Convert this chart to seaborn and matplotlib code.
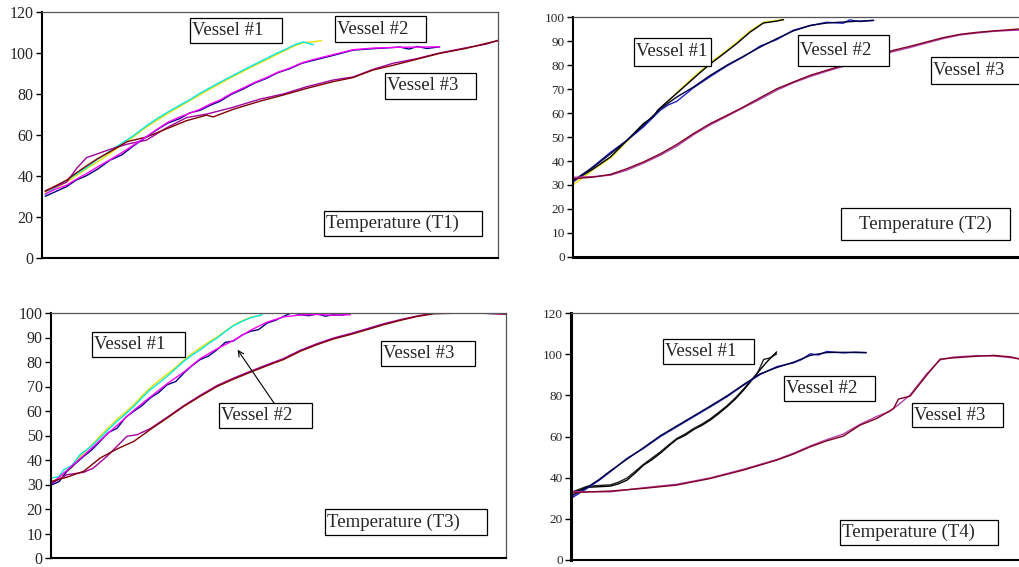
import numpy as np
import pandas as pd
import matplotlib.pyplot as plt
import seaborn as sns
from matplotlib.patches import Rectangle

# ---- data (x = elapsed time, % of the axis span; y = temperature) ----
# T1
t1_v1a_x = [0.7, 3, 5.4, 7.5, 9.8, 12.3, 14.9, 17.5, 20, 22.5, 25.1, 27.6, 30.2, 32.4, 34.6, 36.8, 39, 41.5, 44.1, 46.6, 49.2, 51.4, 53.6, 55.5, 57.3, 59.5, 61.3]
t1_v1a_y = [31.8, 34.2, 37, 40.2, 43.6, 47.1, 51, 55.2, 59, 63.2, 67, 70.5, 73.8, 76.8, 79.5, 82.4, 85, 88.1, 91, 93.9, 96.6, 99.2, 101.5, 103.6, 105, 105.5, 106]
t1_v1b_x = [0.7, 3, 5.4, 7.5, 9.8, 12.3, 14.9, 17.5, 20, 22.5, 25.1, 27.6, 30.2, 32.4, 34.6, 36.8, 39, 41.5, 44.1, 46.6, 49.2, 51.4, 53.6, 55.5, 57.3, 59.5]
t1_v1b_y = [31, 34.6, 37.8, 41, 44.2, 48.3, 52.2, 56, 59.6, 63.8, 67.8, 71.2, 74.5, 77.2, 80.3, 83, 85.7, 88.6, 91.6, 94.4, 97.3, 99.8, 102, 104.1, 105.4, 104]
t1_v2a_x = [0.7, 3, 5.4, 7.5, 9.8, 12.3, 14.9, 17.5, 20, 22.5, 25.1, 27.6, 30.2, 32.4, 34.6, 37, 39, 41.5, 44.1, 46.6, 49.2, 51.7, 54.3, 57, 59.5, 63.8, 68.2, 72.6, 78.5, 80.5, 82.3, 84.4, 87.2]
t1_v2a_y = [30.1, 32.4, 34.8, 38, 40.2, 43.5, 47.7, 50.3, 54.6, 58.5, 62.4, 65.8, 68, 70.8, 72, 74.6, 76.4, 79.8, 82.4, 85.3, 87.6, 90.4, 92.3, 95, 96.4, 98.8, 101.4, 102.1, 102.9, 101.9, 103.2, 102.2, 103]
t1_v2b_x = [0.7, 3, 5.4, 7.5, 9.8, 12.3, 14.9, 17.5, 20, 22.5, 25.1, 27.6, 30.2, 32.4, 34.6, 37, 39, 41.5, 44.1, 46.6, 49.2, 51.7, 54.3, 57, 59.5, 63.8, 68.2, 72.6, 78.5, 87.2]
t1_v2b_y = [31.2, 33.6, 35.5, 38.4, 41.2, 44.6, 47.9, 51.3, 55, 58.6, 62.6, 66.2, 68.8, 70.6, 72.5, 75.2, 77, 80.2, 82.9, 85.6, 88, 90.6, 92.6, 95.2, 96.8, 99.2, 101.6, 102.4, 102.8, 103]
t1_v3a_x = [0.7, 3, 5.4, 7.5, 9.8, 12.3, 14.9, 18.6, 22.9, 27.3, 31.7, 36.1, 37.5, 41.9, 47.8, 52.9, 58, 63.8, 68.2, 72.6, 77, 82.1, 87.2, 93.1, 97.4, 100]
t1_v3a_y = [32.7, 35.2, 38, 41.5, 45, 48.6, 51.8, 56.7, 59, 63, 67, 69.7, 68.8, 72.5, 76.5, 79.5, 82.7, 86, 88, 91.7, 94, 96.9, 99.8, 102.3, 104.7, 106]
t1_v3b_x = [0.7, 3, 5.4, 7.7, 9.8, 12.4, 14.9, 18.6, 22.9, 27.3, 31.7, 36.1, 41.9, 47.8, 52.9, 58, 63.8, 68.2, 72.6, 77, 82.1, 87.2, 93.1, 97.4, 100]
t1_v3b_y = [32.5, 34.8, 37, 44, 49, 51, 53, 55.5, 57.5, 63.5, 68.5, 70.2, 73.5, 77.5, 80, 83.5, 86.8, 88.3, 92, 95, 97.2, 100, 102.6, 104.3, 106.2]

# T2
t2_v1a_x = [0, 4.6, 8.4, 12.1, 15.8, 18.1, 21.1, 24, 27.8, 30.8, 33.8, 36.7, 39.7, 42.7, 45.7, 47.2]
t2_v1a_y = [30, 36.5, 41.2, 48.2, 55.2, 59.2, 64.2, 69.8, 76.2, 81, 85.1, 89.4, 94.2, 97.8, 98.6, 99]
t2_v1b_x = [0, 4.6, 8.4, 12.1, 15.8, 18.1, 19, 21.1, 24, 27.8, 30.8, 33.8, 36.7, 39.7, 42.7, 45.7, 47.2]
t2_v1b_y = [31.5, 36.8, 41.7, 48.6, 55.6, 58.5, 61.2, 64.7, 69.4, 75.7, 80.5, 84.7, 88.9, 93.7, 97.5, 98.3, 98.9]
t2_v2a_x = [0, 4.6, 8.4, 12.1, 15.8, 19.6, 21.4, 23.3, 27, 30.8, 34.5, 38.2, 42, 45.7, 49.4, 53.2, 56.9, 60.6, 62, 64.4, 67.4]
t2_v2a_y = [31.2, 37.8, 43.6, 48.6, 54.2, 61.2, 63.4, 64.9, 70.5, 75.2, 79.6, 83.4, 87.9, 90.6, 94.5, 96.4, 97.8, 97.4, 98.8, 98.1, 98.6]
t2_v2b_x = [0, 4.6, 8.4, 12.1, 15.8, 19.6, 23.3, 27, 30.8, 34.5, 38.2, 42, 45.7, 49.4, 53.2, 56.9, 60.6, 64.4, 67.4]
t2_v2b_y = [31.8, 37.5, 43, 48.6, 54.9, 61.8, 66.7, 70.8, 75.7, 79.9, 83.6, 87.5, 91, 94.2, 96.5, 97.5, 97.9, 98.3, 98.6]
t2_v3a_x = [0, 4.6, 8.4, 12.1, 15.8, 19.6, 23.3, 27, 30.8, 34.5, 38.2, 42, 45.7, 49.4, 53.2, 56.9, 60.6, 64.4, 68.1, 71.8, 75.6, 79.3, 83, 86.8, 90.5, 94.2, 98, 100]
t2_v3a_y = [32.6, 33.3, 34.4, 36.8, 39.6, 43, 46.9, 51.4, 55.6, 59, 62.5, 66.4, 70.1, 72.9, 75.7, 77.8, 79.9, 81.9, 84, 86.1, 87.8, 89.6, 91.4, 92.8, 93.6, 94.2, 94.7, 95]
t2_v3b_x = [0, 4.6, 8.4, 12.1, 15.8, 19.6, 23.3, 27, 30.8, 34.5, 38.2, 42, 45.7, 49.4, 53.2, 56.9, 60.6, 64.4, 68.1, 71.8, 75.6, 79.3, 83, 86.8, 90.5, 94.2, 98, 100]
t2_v3b_y = [33.2, 33.5, 34.1, 36.2, 39.1, 42.4, 46.2, 50.9, 55.1, 58.6, 62.2, 65.8, 69.5, 72.6, 75.2, 77.4, 79.4, 81.5, 83.5, 85.6, 87.3, 89.2, 91, 92.5, 93.3, 94, 94.4, 94.5]

# T3
t3_v1a_x = [0.2, 1.7, 2.8, 4.6, 6.4, 8.6, 10.8, 12.7, 14.5, 16.4, 18.2, 20, 21.8, 23.7, 25.5, 27.4, 29.2, 31, 32.8, 34.7, 36.5, 38.3, 40.1, 42, 43.8, 46.4]
t3_v1a_y = [32.7, 33.2, 36, 37.8, 42.2, 45.3, 49, 52.6, 55.8, 58.8, 61.9, 65.4, 68.7, 71.4, 74.1, 77.3, 80.3, 82.8, 85, 87.6, 89.8, 92.4, 94.8, 96.6, 98, 99.3]
t3_v1b_x = [0.2, 2.8, 4.6, 6.4, 8.6, 10.8, 12.7, 14.5, 16.4, 18.2, 20, 21.8, 23.7, 25.5, 27.4, 29.2, 31, 32.8, 34.7, 36.5, 38.3, 40.1, 42, 43.8, 46]
t3_v1b_y = [31, 34.2, 37, 41.4, 45.4, 49.8, 53.4, 56.6, 59.6, 62.6, 66.2, 69.4, 72.4, 75, 77.8, 80.8, 83.4, 85.8, 88.2, 90.2, 92.6, 95, 96.8, 98.2, 99]
t3_v2a_x = [0.2, 1.8, 3.5, 5.4, 7.2, 9, 10.8, 12.6, 14.5, 16.4, 18.2, 20, 21.8, 23.7, 25.5, 27.4, 29.2, 31, 32.8, 34.6, 36.5, 38.3, 40.1, 42, 43.8, 45.6, 47.5, 49.3, 51.1, 53, 54.8, 56.6, 58.5, 60.3, 62.1, 64, 65.8]
t3_v2a_y = [29.9, 31.2, 35.4, 38.6, 41.5, 44.2, 47.6, 51.2, 52.9, 57.4, 59.9, 62.2, 65.3, 67.6, 70.7, 72, 75.5, 78.5, 81, 82.4, 85, 88, 88.6, 91, 92.5, 93.2, 95.9, 97, 98.6, 100.2, 99.3, 98.9, 99.6, 98.7, 99.3, 99.1, 100]
t3_v2b_x = [0.2, 3.5, 7.2, 10.8, 14.5, 18.2, 21.8, 25.5, 29.2, 32.8, 36.5, 40.1, 43.8, 47.5, 51.1, 54.8, 58.5, 62.1, 65.8]
t3_v2b_y = [30.4, 35.8, 41.9, 48, 54.1, 60.3, 65.7, 71.1, 75.9, 81.4, 85.4, 88.8, 92.9, 96.3, 98.4, 99.2, 99.4, 99.1, 99.3]
t3_v3a_x = [0.2, 3.5, 7.2, 10.8, 14.5, 18.2, 21.8, 25.5, 29.2, 32.8, 36.5, 40.1, 43.8, 47.5, 51.1, 54.8, 58.5, 62.1, 65.8, 69.5, 73.1, 76.8, 80.5, 84.1, 91.4, 100]
t3_v3a_y = [31.3, 33, 35.4, 40.8, 44.5, 47.6, 52.4, 57.1, 61.9, 66, 70, 73, 75.8, 78.5, 81, 84.4, 87.1, 89.4, 91.2, 93.2, 95.2, 97, 98.6, 99.7, 100, 99.7]
t3_v3b_x = [0.2, 3.5, 7.2, 9.3, 12.3, 16.7, 18.9, 21.8, 25.5, 29.2, 32.8, 36.5, 40.1, 43.8, 47.5, 51.1, 54.8, 58.5, 62.1, 65.8, 69.5, 73.1, 76.8, 80.5, 84.1, 91.4, 100]
t3_v3b_y = [30.5, 34, 35, 36.7, 41.5, 49.7, 50.3, 52.8, 57.4, 62.2, 66.4, 70.4, 73.4, 76.2, 78.9, 81.4, 84.8, 87.5, 89.8, 91.6, 93.6, 95.6, 97.3, 98.8, 99.9, 100.2, 99.5]

# T4
t4_v1a_x = [0.2, 3.6, 6.2, 8.8, 10.6, 12.5, 14.3, 16.2, 18, 19.9, 21.8, 23.6, 25.5, 27.4, 29.2, 31.1, 32.9, 34.8, 36.7, 38.5, 40, 41.5, 43.7, 45.9]
t4_v1a_y = [32.4, 35.3, 35.6, 35.9, 37, 38.8, 42.2, 46.1, 48.6, 51.8, 55.4, 58.6, 60.6, 63.4, 65.4, 68, 71, 74.4, 78.2, 82.5, 86.4, 90.6, 96.2, 101.1]
t4_v1b_x = [0.2, 3.6, 6.2, 8.8, 10.6, 12.5, 14.3, 16.2, 18, 19.9, 21.8, 23.6, 25.5, 27.4, 29.2, 31.1, 32.9, 34.8, 36.7, 38.5, 40, 41.5, 43, 44.4, 45.9]
t4_v1b_y = [33, 35.8, 36.2, 36.5, 37.8, 39.8, 43, 46.5, 49.4, 52.4, 55.9, 59, 61.2, 63.9, 66, 68.6, 71.6, 74.9, 78.8, 83, 86.9, 90.2, 97.4, 98.2, 100.1]
t4_v2a_x = [0.2, 3.6, 6.2, 8.8, 12.5, 16.2, 19.9, 23.6, 27.4, 31.1, 34.8, 38.5, 42.2, 45.9, 49.7, 51.5, 53.4, 55.2, 57.1, 60.8, 63.4, 65.9]
t4_v2a_y = [30.2, 34.8, 38.6, 42.9, 49.4, 54.2, 59.9, 64.7, 69.6, 74.4, 79.3, 84.9, 90.1, 93.9, 95.8, 97.4, 100.2, 99.6, 101.3, 100.6, 101, 100.8]
t4_v2b_x = [0.2, 3.6, 6.2, 8.8, 12.5, 16.2, 19.9, 23.6, 27.4, 31.1, 34.8, 38.5, 42.2, 45.9, 49.7, 53.4, 57.1, 60.8, 65.9]
t4_v2b_y = [31.2, 35.3, 39, 43.3, 49, 54.6, 60.3, 65.1, 70, 74.8, 79.7, 85.2, 90.4, 93.5, 96.1, 99.4, 100.8, 100.9, 100.7]
t4_v3a_x = [0, 8.8, 16.2, 23.6, 31.1, 38.5, 45.9, 49.7, 53.4, 57.1, 60.8, 64.5, 68.3, 72, 73.1, 75.7, 79.4, 82.4, 85.4, 90.6, 94.4, 98.1, 100]
t4_v3a_y = [32.7, 33.5, 34.8, 36.4, 39.6, 43.7, 48.5, 51.5, 55, 57.9, 60.2, 65.5, 68.8, 73.6, 78.2, 79.6, 89.8, 97.6, 98.2, 99, 99.4, 98.7, 97.6]
t4_v3b_x = [0, 8.8, 16.2, 23.6, 31.1, 38.5, 45.9, 49.7, 53.4, 57.1, 60.8, 64.5, 68.3, 71, 73.1, 75.7, 79.4, 82.4, 85.4, 90.6, 94.4, 98.1, 100]
t4_v3b_y = [33.2, 33.1, 35.1, 36.8, 39.9, 44.1, 48.8, 51.9, 55.4, 58.5, 61.2, 65.9, 69.8, 72, 75.4, 80.2, 90.4, 97.2, 98.6, 99.3, 99.1, 98.3, 97.9]

# label text and the box each sits in (figure pixels: x0, y0, x1, y1)
labels = [
    ("Vessel #1", (190, 18, 282, 43)), ("Vessel #2", (335, 16, 426, 42)),
    ("Vessel #3", (385, 73, 476, 99)), ("Temperature (T1)", (324, 211, 482, 236)),
    ("Vessel #1", (634, 38, 711, 66)), ("Vessel #2", (798, 35, 889, 66)),
    ("Vessel #3", (931, 57, 1022, 84)), ("Temperature (T2)", (841, 208, 1010, 240)),
    ("Vessel #1", (92, 332, 185, 357)), ("Vessel #2", (219, 403, 312, 428)),
    ("Vessel #3", (381, 341, 475, 366)), ("Temperature (T3)", (325, 509, 487, 535)),
    ("Vessel #1", (663, 339, 754, 364)), ("Vessel #2", (784, 376, 875, 401)),
    ("Vessel #3", (912, 403, 1003, 427)), ("Temperature (T4)", (840, 520, 998, 545)),
]

# colours of the paired traces
pal_a = {"v1a": "#e8e000", "v1b": "#00e8e8", "v2a": "#000080", "v2b": "#ff00ff", "v3a": "#a000a0", "v3b": "#800000"}
pal_b = {"v1a": "#e8e000", "v1b": "#000000", "v2a": "#2020c0", "v2b": "#000040", "v3a": "#b040b0", "v3b": "#800020"}
pal_d = {"v1a": "#202020", "v1b": "#000000", "v2a": "#2020c0", "v2b": "#000040", "v3a": "#b040b0", "v3b": "#800020"}


def long_df(pairs):
    frames = []
    for name, xs, ys in pairs:
        frames.append(pd.DataFrame({"t": xs, "temp": ys, "curve": name}))
    return pd.concat(frames, ignore_index=True)


panels = [
    dict(rect=[42, 12, 498, 258], ymax=120, step=20, fs=11.5, pal=pal_a,
         data=[("v1a", t1_v1a_x, t1_v1a_y), ("v1b", t1_v1b_x, t1_v1b_y),
               ("v3a", t1_v3b_x, t1_v3b_y), ("v3b", t1_v3a_x, t1_v3a_y),
               ("v2a", t1_v2a_x, t1_v2a_y), ("v2b", t1_v2b_x, t1_v2b_y)]),
    dict(rect=[573, 17, 1019, 257], ymax=100, step=10, fs=9.5, pal=pal_b,
         data=[("v1a", t2_v1a_x, t2_v1a_y), ("v1b", t2_v1b_x, t2_v1b_y),
               ("v2a", t2_v2a_x, t2_v2a_y), ("v2b", t2_v2b_x, t2_v2b_y),
               ("v3a", t2_v3b_x, t2_v3b_y), ("v3b", t2_v3a_x, t2_v3a_y)]),
    dict(rect=[51, 313, 506, 558], ymax=100, step=10, fs=11.5, pal=pal_a,
         data=[("v1a", t3_v1b_x, t3_v1b_y), ("v1b", t3_v1a_x, t3_v1a_y),
               ("v2a", t3_v2a_x, t3_v2a_y), ("v2b", t3_v2b_x, t3_v2b_y),
               ("v3a", t3_v3b_x, t3_v3b_y), ("v3b", t3_v3a_x, t3_v3a_y)]),
    dict(rect=[571, 313, 1019, 560], ymax=120, step=20, fs=9.5, pal=pal_d,
         data=[("v1a", t4_v1b_x, t4_v1b_y), ("v1b", t4_v1a_x, t4_v1a_y),
               ("v2a", t4_v2a_x, t4_v2a_y), ("v2b", t4_v2b_x, t4_v2b_y),
               ("v3a", t4_v3b_x, t4_v3b_y), ("v3b", t4_v3a_x, t4_v3a_y)]),
]

sns.set_style("white")
plt.rcParams['font.family'] = ['Liberation Serif', 'DejaVu Serif']

W, H = 1019, 567
fig = plt.figure(figsize=(W / 100, H / 100), dpi=100)

axes = []
for p in panels:
    x0, y0, x1, y1 = p["rect"]
    ax = fig.add_axes([x0 / W, 1 - y1 / H, (x1 - x0) / W, (y1 - y0) / H])
    df = long_df(p["data"])
    sns.lineplot(data=df, x="t", y="temp", hue="curve", palette=p["pal"],
                 estimator=None, sort=False, legend=False, linewidth=1.0, ax=ax)
    ax.set_xlim(0, 100)
    ax.set_ylim(0, p["ymax"])
    ax.set_yticks(np.arange(0, p["ymax"] + 1, p["step"]))
    ax.set_xticks([])
    ax.set_xlabel("")
    ax.set_ylabel("")
    ax.tick_params(axis="y", direction="out", length=4, width=1, left=True,
                   labelsize=p["fs"], pad=2, color="black")
    for s in ["left", "bottom"]:
        ax.spines[s].set_color("black")
        ax.spines[s].set_linewidth(1.5)
    for s in ["top", "right"]:
        ax.spines[s].set_color("#555555")
        ax.spines[s].set_linewidth(0.9)
    axes.append(ax)

axes[1].spines["bottom"].set_linewidth(2.2)
axes[3].spines["left"].set_linewidth(2.2)
axes[1].spines["right"].set_visible(False)
axes[3].spines["right"].set_visible(False)

for text, (bx0, by0, bx1, by1) in labels:
    fig.patches.append(Rectangle((bx0 / W, 1 - by1 / H), (bx1 - bx0) / W, (by1 - by0) / H,
                                 transform=fig.transFigure, facecolor="white",
                                 edgecolor="black", linewidth=0.9, zorder=5))
    if text == "Temperature (T2)":
        fig.text((bx0 + bx1) / 2 / W, 1 - (by0 + by1) / 2 / H, text, ha="center",
                 va="center", fontsize=13.5, zorder=6)
    else:
        fig.text((bx0 + 2) / W, 1 - (by0 + by1) / 2 / H, text, ha="left",
                 va="center", fontsize=13.5, zorder=6)

# Vessel #2 in T3 carries an arrow into the curves
axes[2].annotate("", xy=(41, 85), xycoords="data",
                 xytext=(274 / W, 1 - 403 / H), textcoords="figure fraction",
                 arrowprops=dict(arrowstyle="->", color="black", lw=0.8,
                                 shrinkA=0, shrinkB=0))

fig.savefig("out.png", dpi=100)
